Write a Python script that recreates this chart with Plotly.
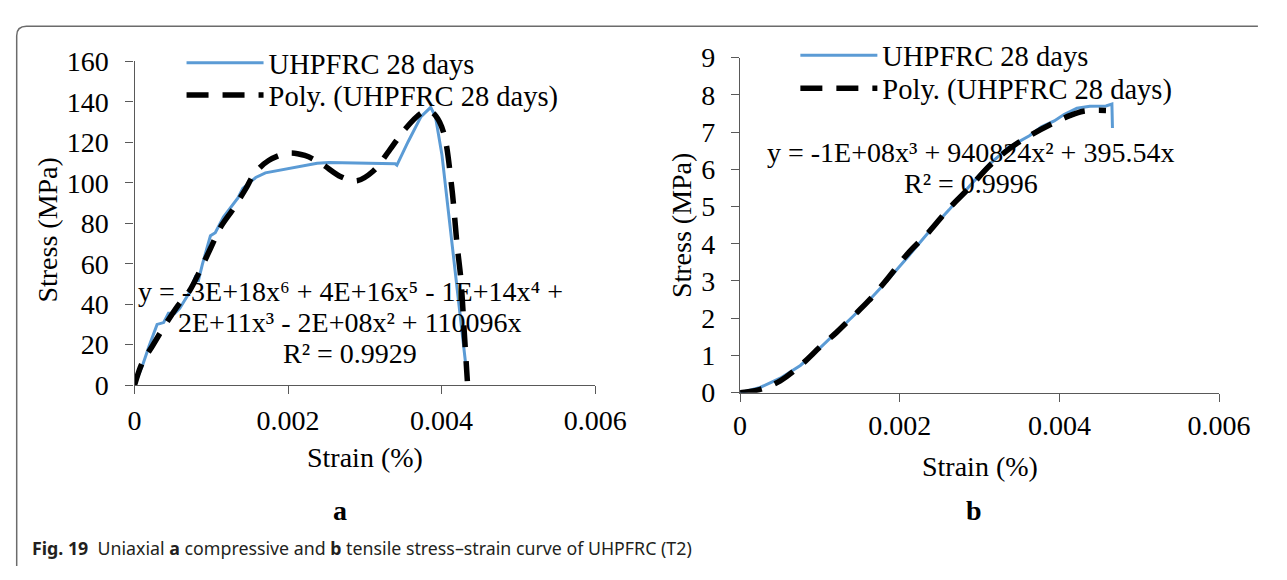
import plotly.graph_objects as go

W, H = 1287, 580

# ---- data: (a) compressive ----
a_strain = [0, 0.000105, 0.000189, 0.000294, 0.000379, 0.000442, 0.000526, 0.000589, 0.000715,
            0.0008, 0.000829, 0.000884, 0.000989, 0.001052, 0.001158, 0.001347, 0.00141, 0.001579,
            0.001705, 0.002379, 0.002532, 0.003396, 0.003418, 0.003564, 0.003732, 0.003858,
            0.00392, 0.004004, 0.004088, 0.004156, 0.004336]
a_stress = [0, 9.8, 19.2, 30, 30.9, 35.5, 35.5, 37.9, 45.7,
            54.3, 51.1, 59.7, 73.8, 75.3, 83.1, 92.5, 97.2, 102.6,
            104.9, 109.6, 110, 109.4, 108.7, 120.3, 132.7, 137.3,
            132.7, 114, 86, 63, 3]

a_fit_strain = [0, 0.000105, 0.000231, 0.000379, 0.000568, 0.000715, 0.000863, 0.000989, 0.001116,
                0.001284, 0.001452, 0.001557, 0.001747, 0.002009, 0.002218, 0.002427, 0.002689,
                0.002898, 0.003107, 0.003316, 0.003526, 0.003735, 0.003837, 0.003925, 0.004025,
                0.00413, 0.0042, 0.004252, 0.004294, 0.004336]
a_fit_stress = [0, 11.4, 19.2, 28.5, 39.4, 46.5, 57.4, 67.5, 77.7,
                87, 97.2, 104.2, 111, 114.7, 113.5, 109.6, 103,
                101, 105.7, 115.8, 126.6, 134.4, 135.5, 133, 125,
                98.6, 70, 52, 27, 2]

# ---- data: (b) tensile ----
b_strain = [0, 0.000252, 0.000503, 0.000755, 0.000956, 0.001208, 0.001409, 0.001611, 0.001812,
            0.002114, 0.002366, 0.002617, 0.002869, 0.003121, 0.003372, 0.003624, 0.003775,
            0.003935, 0.004057, 0.004219, 0.004381, 0.004583, 0.004657, 0.004664]
b_stress = [0, 0.14, 0.39, 0.73, 1.11, 1.62, 2.04, 2.47, 2.93,
            3.68, 4.32, 4.91, 5.54, 6.13, 6.6, 6.9, 7.14,
            7.3, 7.47, 7.64, 7.69, 7.70, 7.75, 7.11]

b_fit_strain = [0, 0.000252, 0.000503, 0.000755, 0.001007, 0.001208, 0.001409, 0.001611, 0.001812,
                0.002114, 0.002366, 0.002617, 0.002869, 0.003121, 0.003372, 0.003624, 0.003876,
                0.004128, 0.0043, 0.004583]
b_fit_stress = [0, 0.09, 0.32, 0.73, 1.24, 1.62, 2.04, 2.47, 2.97,
                3.77, 4.32, 4.95, 5.5, 6.09, 6.55, 6.9, 7.19,
                7.44, 7.56, 7.58]

x_ticks = [0, 0.002, 0.004, 0.006]
x_tick_text = ["0", "0.002", "0.004", "0.006"]
a_y_ticks = [0, 20, 40, 60, 80, 100, 120, 140, 160]
b_y_ticks = [0, 1, 2, 3, 4, 5, 6, 7, 8, 9]

series_name = "UHPFRC 28 days"
fit_name = "Poly. (UHPFRC 28 days)"
eq_a = ["y = -3E+18x⁶ + 4E+16x⁵ - 1E+14x⁴ +",
        "2E+11x³ - 2E+08x² + 110096x",
        "R² = 0.9929"]
eq_b = ["y = -1E+08x³ + 940824x² + 395.54x",
        "R² = 0.9996"]
caption = ("<b>Fig. 19</b>  Uniaxial <b>a</b> compressive and <b>b</b> tensile "
           "stress–strain curve of UHPFRC (T2)")

BLUE = "#5B9BD5"
AXC = "#595959"
SERIF = "Liberation Serif"
FS = 28


def px(x):
    return x / W


def py(y):
    return 1 - y / H


fit_line = dict(color="black", width=5.5, dash="22px,14px", shape="spline", smoothing=1)

fig = go.Figure()
fig.add_trace(go.Scatter(x=a_strain, y=a_stress, mode="lines", name=series_name,
                         line=dict(color=BLUE, width=3), xaxis="x", yaxis="y", legend="legend"))
fig.add_trace(go.Scatter(x=a_fit_strain, y=a_fit_stress, mode="lines", name=fit_name,
                         line=fit_line, xaxis="x", yaxis="y", legend="legend2"))
fig.add_trace(go.Scatter(x=b_strain, y=b_stress, mode="lines", name=series_name,
                         line=dict(color=BLUE, width=3), xaxis="x2", yaxis="y2", legend="legend3"))
fig.add_trace(go.Scatter(x=b_fit_strain, y=b_fit_stress, mode="lines", name=fit_name,
                         line=fit_line, xaxis="x2", yaxis="y2", legend="legend4"))

axis_common = dict(showgrid=False, zeroline=False, showline=True, linecolor=AXC, linewidth=1.3,
                   ticks="outside", ticklen=8, tickwidth=1.3, tickcolor=AXC,
                   tickfont=dict(family=SERIF, size=FS, color="black"))


def leg(xp, yp):
    return dict(x=px(xp), y=py(yp), xanchor="left", yanchor="middle", bgcolor="rgba(0,0,0,0)",
                font=dict(family=SERIF, size=28.5, color="black"), itemwidth=77)


fig.update_layout(
    width=W, height=H, margin=dict(l=0, r=0, t=0, b=0),
    paper_bgcolor="white", plot_bgcolor="white",
    xaxis=dict(domain=[px(131.5), px(606.5)], range=[0, 0.006], tickvals=x_ticks, ticktext=x_tick_text,
               anchor="y", ticklabelstandoff=2, **axis_common),
    yaxis=dict(domain=[py(391), py(49)], range=[0, 160], tickvals=a_y_ticks, anchor="x",
               ticklabelstandoff=11, **axis_common),
    xaxis2=dict(domain=[px(756), px(1250)], range=[0, 0.006], tickvals=x_ticks, ticktext=x_tick_text,
                anchor="y2", ticklabelstandoff=0, **axis_common),
    yaxis2=dict(domain=[py(399), py(45)], range=[0, 9], tickvals=b_y_ticks, anchor="x2",
                ticklabelstandoff=10, **axis_common),
    legend=leg(180, 51),
    legend2=leg(180, 85),
    legend3=leg(813, 43),
    legend4=leg(813, 78),
    showlegend=True,
)

ann = []
txt = dict(family=SERIF, size=FS, color="black")
ann.append(dict(text="Stress (MPa)", x=px(42), y=py(227), textangle=-90, font=txt))
ann.append(dict(text="Stress (MPa)", x=px(695), y=py(222), textangle=-90, font=txt))
ann.append(dict(text="Strain (%)", x=px(369), y=py(468), font=txt))
ann.append(dict(text="Strain (%)", x=px(1003), y=py(477), font=txt))
ann.append(dict(text="<b>a</b>", x=px(343), y=py(523), font=txt))
ann.append(dict(text="<b>b</b>", x=px(997), y=py(523), font=txt))
for line, yy in zip(eq_a, [292, 325, 358]):
    ann.append(dict(text=line, x=px(354), y=py(yy), font=txt))
for line, yy in zip(eq_b, [145, 178]):
    ann.append(dict(text=line, x=px(994), y=py(yy), font=txt))
ann.append(dict(text=caption, x=px(24), y=py(563), xanchor="left",
                font=dict(family="Noto Sans", size=17.8, color="#231f20")))
for a in ann:
    a.setdefault("xanchor", "center")
    a.update(xref="paper", yref="paper", yanchor="middle", showarrow=False)
fig.update_layout(annotations=ann)

# figure frame (rounded top-left corner)
r = 10
frame = (f"M {px(10)} {py(582)} L {px(10)} {py(12 + r)} "
         f"Q {px(10)} {py(12)} {px(10 + r)} {py(12)} L {px(1290)} {py(12)}")
fig.add_shape(type="path", path=frame, xref="paper", yref="paper",
              line=dict(color="#6b6b6b", width=1.5))

fig.write_html("out.html")
